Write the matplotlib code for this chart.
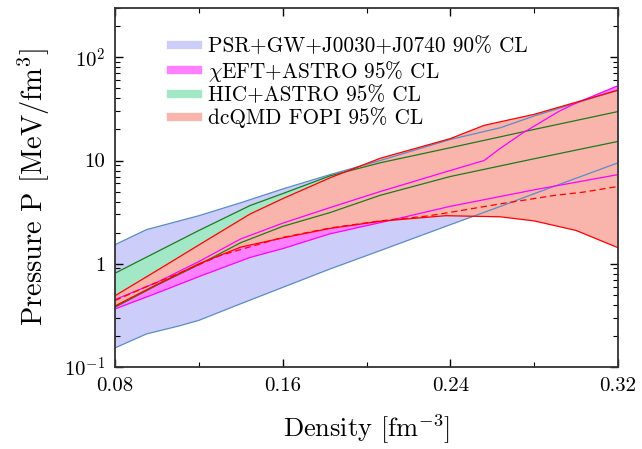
import matplotlib
matplotlib.use("Agg")
import matplotlib.pyplot as plt
from matplotlib.lines import Line2D
from matplotlib.ticker import FixedLocator, NullFormatter

plt.rcParams['font.family'] = ['cmr10', 'DejaVu Serif']
plt.rcParams['mathtext.fontset'] = 'cm'
plt.rcParams['axes.formatter.use_mathtext'] = True

# PSR+GW+J0030+J0740 90% CL
psr_x_lo = [0.08, 0.095, 0.1106, 0.12, 0.14, 0.16, 0.1826, 0.2065, 0.24, 0.264, 0.28, 0.32]
psr_lo = [0.153, 0.209, 0.25, 0.283, 0.41, 0.59, 0.89, 1.34, 2.39, 3.6, 4.77, 9.5]
psr_x_hi = [0.08, 0.095, 0.12, 0.14, 0.16, 0.1826, 0.2065, 0.24, 0.264, 0.28, 0.32]
psr_hi = [1.53, 2.14, 2.92, 3.9, 5.3, 7.3, 10.0, 16.0, 20.8, 27.0, 48.0]

# HIC+ASTRO 95% CL
hic_x_lo = [0.08, 0.1, 0.12, 0.14, 0.16, 0.1826, 0.2065, 0.24, 0.28, 0.32]
hic_lo = [0.38, 0.62, 0.98, 1.6, 2.3, 3.13, 4.6, 7.0, 10.4, 15.3]
hic_x_hi = [0.08, 0.12, 0.1444, 0.16, 0.1826, 0.2065, 0.24, 0.28, 0.32]
hic_hi = [0.81, 2.1, 3.66, 4.78, 7.1, 9.5, 13.3, 20.0, 29.8]

# chiEFT+ASTRO 95% CL
eft_x_lo = [0.08, 0.1, 0.12, 0.1444, 0.16, 0.1826, 0.2065, 0.24, 0.28, 0.32]
eft_lo = [0.365, 0.52, 0.75, 1.15, 1.4, 1.95, 2.5, 3.6, 5.2, 7.3]
eft_x_hi = [0.08, 0.1, 0.12, 0.14, 0.16, 0.1826, 0.2065, 0.2363, 0.2561, 0.2636, 0.2742, 0.2919, 0.30, 0.32]
eft_hi = [0.45, 0.66, 1.05, 1.74, 2.47, 3.5, 5.0, 7.6, 10.0, 13.0, 18.3, 30.0, 36.0, 53.0]

# dcQMD FOPI 95% CL
qmd_x_lo = [0.08, 0.1, 0.12, 0.14, 0.16, 0.1826, 0.2065, 0.2378, 0.2637, 0.28, 0.30, 0.32]
qmd_lo = [0.39, 0.63, 1.0, 1.45, 1.78, 2.2, 2.58, 2.92, 2.85, 2.6, 2.1, 1.43]
qmd_x_hi = [0.08, 0.1, 0.12, 0.1444, 0.16, 0.1826, 0.2065, 0.24, 0.2561, 0.28, 0.32]
qmd_hi = [0.49, 0.86, 1.52, 3.03, 4.27, 6.8, 10.5, 16.3, 21.9, 28.0, 48.0]
qmd_x_mid = [0.08, 0.095, 0.11, 0.13, 0.16, 0.1826, 0.2065, 0.229, 0.24, 0.2637, 0.29, 0.3032, 0.32]
qmd_mid = [0.44, 0.6, 0.8, 1.2, 1.8, 2.22, 2.6, 2.9, 3.15, 3.8, 4.6, 4.93, 5.6]

labels = ['PSR+GW+J0030+J0740 90% CL', r'$\chi$EFT+ASTRO 95% CL',
          'HIC+ASTRO 95% CL', 'dcQMD FOPI 95% CL']

c_psr, e_psr = '#cdcdfa', '#5a8cc8'
c_eft, e_eft = '#ff80ff', '#ff00ff'
c_hic, e_hic = '#a2e8c6', '#1e7a1e'
c_qmd, e_qmd = '#f9b5ac', '#ff0000'


def band(ax, xl, yl, xh, yh, fc, z):
    ax.fill(list(xl) + list(xh)[::-1], list(yl) + list(yh)[::-1],
            color=fc, lw=0, zorder=z)


fig = plt.figure(figsize=(6.42, 4.49), dpi=100)
ax = fig.add_axes([115/642, 1-367/449, 503/642, 359/449])

band(ax, psr_x_lo, psr_lo, psr_x_hi, psr_hi, c_psr, 1)
band(ax, hic_x_lo, hic_lo, hic_x_hi, hic_hi, c_hic, 2)
band(ax, eft_x_lo, eft_lo, eft_x_hi, eft_hi, c_eft, 3)
band(ax, qmd_x_lo, qmd_lo, qmd_x_hi, qmd_hi, c_qmd, 4)

lw = 0.9
ax.plot(psr_x_lo, psr_lo, color=e_psr, lw=lw, zorder=5)
ax.plot(psr_x_hi, psr_hi, color=e_psr, lw=lw, zorder=5)
ax.plot(hic_x_lo, hic_lo, color=e_hic, lw=lw, zorder=6)
ax.plot(hic_x_hi, hic_hi, color=e_hic, lw=lw, zorder=6)
ax.plot(eft_x_lo, eft_lo, color=e_eft, lw=lw, zorder=7)
ax.plot(eft_x_hi, eft_hi, color=e_eft, lw=lw, zorder=7)
ax.plot(qmd_x_lo, qmd_lo, color=e_qmd, lw=lw, zorder=8)
ax.plot(qmd_x_hi, qmd_hi, color=e_qmd, lw=lw, zorder=8)
ax.plot(qmd_x_mid, qmd_mid, color=e_qmd, lw=lw, ls=(0, (5, 3)), zorder=8)

ax.set_yscale('log')
ax.set_xlim(0.08, 0.32)
ax.set_ylim(0.1, 300)

ax.xaxis.set_major_locator(FixedLocator([0.08, 0.16, 0.24, 0.32]))
ax.xaxis.set_minor_locator(FixedLocator([0.12, 0.20, 0.28]))
ax.set_xticklabels(['0.08', '0.16', '0.24', '0.32'])
ax.yaxis.set_major_locator(FixedLocator([0.1, 1, 10, 100]))
ax.set_yticklabels([r'$10^{-1}$', '1', '10', r'$10^2$'])
ax.yaxis.set_minor_formatter(NullFormatter())

ax.tick_params(which='both', direction='in', top=True, right=True, labelsize=15)
ax.tick_params(which='major', length=6, width=1.0, pad=7)
ax.tick_params(which='minor', length=3.5, width=0.8)
for s in ax.spines.values():
    s.set_linewidth(1.3)
    s.set_color('#333333')
    s.set_zorder(10)

ax.set_xlabel('Density [fm$^{-3}$]', fontsize=19, labelpad=13)
ax.set_ylabel('Pressure P [MeV/fm$^3$]', fontsize=20.5, labelpad=9)

handles = [Line2D([], [], color=c, lw=6) for c in [c_psr, c_eft, c_hic, c_qmd]]
ax.legend(handles, labels, loc='upper left', bbox_to_anchor=(0.095, 0.943),
          frameon=False, fontsize=15.3, handlelength=1.25, handletextpad=0.5,
          labelspacing=0.1, borderaxespad=0)

fig.savefig('out.png', dpi=100)
